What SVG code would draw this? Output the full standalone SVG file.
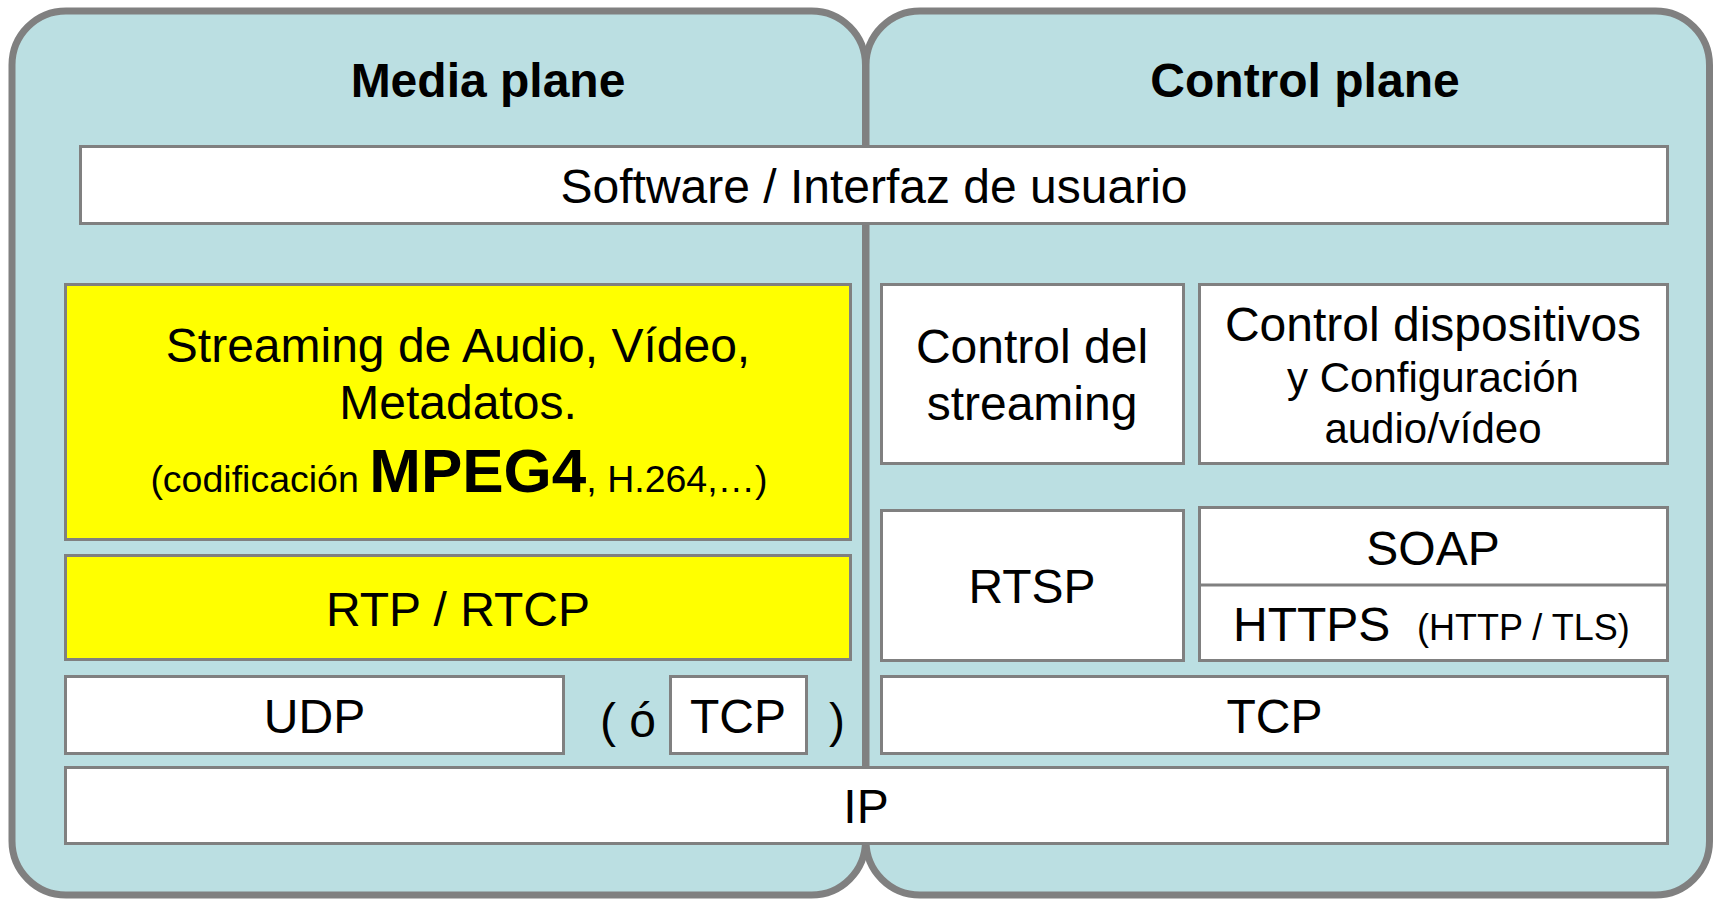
<svg xmlns="http://www.w3.org/2000/svg" width="1717" height="903" viewBox="0 0 1717 903">
<style>
.panel{fill:#bbdfe2;stroke:#808080;stroke-width:7}
.box{fill:#ffffff;stroke:#808080;stroke-width:3}
.yel{fill:#ffff00;stroke:#808080;stroke-width:3}
text{font-family:"Liberation Sans",Arial,sans-serif;fill:#000;font-size:48px}
.c{text-anchor:middle}
.b{font-weight:bold}
.s42{font-size:42px}
.s36{font-size:36px}
.s37{font-size:37.5px}
.s62{font-size:62px;font-weight:bold}
</style>
<rect width="1717" height="903" fill="#ffffff"/>
<g id="panel-media">
<rect class="panel" x="12" y="11" width="853.5" height="884" rx="54" ry="54"/>
<text class="c b" x="488" y="97">Media plane</text>
</g>
<g id="panel-control">
<rect class="panel" x="866" y="11" width="843.5" height="884" rx="54" ry="54"/>
<text class="c b" x="1305" y="97">Control plane</text>
</g>
<g id="node-software">
<rect class="box" x="80.5" y="146.5" width="1587" height="77"/>
<text class="c" x="874" y="203">Software / Interfaz de usuario</text>
</g>
<g id="node-streaming">
<rect class="yel" x="65.5" y="284.5" width="785" height="255"/>
<text class="c" x="458" y="362">Streaming de Audio, Vídeo,</text>
<text class="c" x="458" y="419">Metadatos.</text>
<text class="c" x="459" y="492"><tspan class="s37">(codificación </tspan><tspan class="s62">MPEG4</tspan><tspan class="s37">, H.264,…)</tspan></text>
</g>
<g id="node-rtp">
<rect class="yel" x="65.5" y="555.5" width="785" height="104"/>
<text class="c" x="458" y="626">RTP / RTCP</text>
</g>
<g id="node-udp">
<rect class="box" x="65.5" y="676.5" width="498" height="77"/>
<text class="c" x="314.5" y="733">UDP</text>
</g>
<g id="label-or">
<text x="600" y="737">( ó</text>
<text x="829" y="737">)</text>
</g>
<g id="node-tcp-media">
<rect class="box" x="670.5" y="676.5" width="136" height="77"/>
<text class="c" x="738" y="733">TCP</text>
</g>
<g id="node-ip">
<rect class="box" x="65.5" y="767.5" width="1602" height="76"/>
<text class="c" x="866" y="823">IP</text>
</g>
<g id="node-control-streaming">
<rect class="box" x="881.5" y="284.5" width="302" height="179"/>
<text class="c" x="1032" y="363">Control del</text>
<text class="c" x="1032" y="420">streaming</text>
</g>
<g id="node-control-dispositivos">
<rect class="box" x="1199.5" y="284.5" width="468" height="179"/>
<text class="c" x="1433" y="341">Control dispositivos</text>
<text class="c s42" x="1433" y="392">y Configuración</text>
<text class="c s42" x="1433" y="443">audio/vídeo</text>
</g>
<g id="node-rtsp">
<rect class="box" x="881.5" y="510.5" width="302" height="150"/>
<text class="c" x="1032" y="603">RTSP</text>
</g>
<g id="node-soap-https">
<rect class="box" x="1199.5" y="507.5" width="468" height="153"/>
<line x1="1199.5" y1="585" x2="1667.5" y2="585" stroke="#808080" stroke-width="3"/>
<text class="c" x="1433" y="565">SOAP</text>
<text x="1233" y="641">HTTPS</text>
<text class="s36" x="1417" y="640">(HTTP / TLS)</text>
</g>
<g id="node-tcp-control">
<rect class="box" x="881.5" y="676.5" width="786" height="77"/>
<text class="c" x="1274.5" y="733">TCP</text>
</g>
<g id="connectors"/>
</svg>
